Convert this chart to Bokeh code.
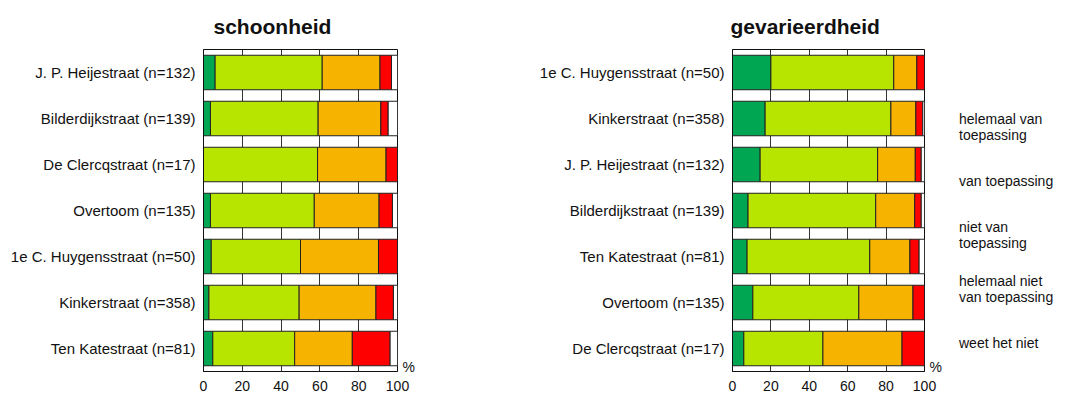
from bokeh.plotting import figure
from bokeh.models import (ColumnDataSource, FactorRange, FixedTicker, Legend, LegendItem,
                          CategoricalAxis, CustomJSTickFormatter, Range1d, CDSView, IndexFilter)
from bokeh.layouts import row
from bokeh.embed import file_html
from bokeh.resources import INLINE

series_keys = ["hel_van", "van", "niet", "hel_niet", "weet"]
series_labels = ["helemaal van\ntoepassing", "van toepassing", "niet van\ntoepassing",
                 "helemaal niet\nvan toepassing", "weet het niet"]
colors = ["#00A651", "#B7E500", "#F6B400", "#FF0000", "#FFFFFF"]

# schoonheid (top to bottom)
cats_s = ["J. P. Heijestraat (n=132)", "Bilderdijkstraat (n=139)", "De Clercqstraat (n=17)",
          "Overtoom (n=135)", "1e C. Huygensstraat (n=50)", "Kinkerstraat (n=358)",
          "Ten Katestraat (n=81)"]
s_hel_van = [6.0, 3.6, 0.0, 3.6, 4.0, 2.8, 4.8]
s_van = [55.2, 55.5, 58.8, 53.5, 46.0, 46.5, 42.2]
s_niet = [29.8, 32.3, 35.3, 33.4, 40.2, 39.6, 29.7]
s_hel_niet = [5.9, 3.8, 5.9, 6.9, 9.8, 9.0, 19.5]
s_weet = [3.1, 4.8, 0.0, 2.6, 0.0, 2.1, 3.8]

# gevarieerdheid (top to bottom)
cats_g = ["1e C. Huygensstraat (n=50)", "Kinkerstraat (n=358)", "J. P. Heijestraat (n=132)",
          "Bilderdijkstraat (n=139)", "Ten Katestraat (n=81)", "Overtoom (n=135)",
          "De Clercqstraat (n=17)"]
g_hel_van = [20.0, 17.0, 14.4, 8.1, 7.6, 10.6, 5.9]
g_van = [64.0, 65.5, 61.2, 66.5, 63.9, 55.2, 41.2]
g_niet = [12.0, 13.0, 19.6, 20.3, 20.9, 28.2, 41.2]
g_hel_niet = [4.0, 3.6, 3.1, 3.4, 4.8, 6.0, 11.7]
g_weet = [0.0, 0.9, 1.7, 1.7, 2.8, 0.0, 0.0]

x_ticks = [0, 20, 40, 60, 80, 100]
unit_label = "%"

FONT = "Liberation Sans"
HEIGHT = 398


def make_panel(title, cats, vals, width, left, right, title_offset):
    data = {"cat": cats}
    for k, v in zip(series_keys, vals):
        data[k] = v
    src = ColumnDataSource(data)
    p = figure(y_range=FactorRange(*reversed(cats), range_padding=0), x_range=(0, 100),
               width=width, height=HEIGHT, output_backend="svg", toolbar_location=None,
               min_border_left=left, min_border_right=right, min_border_top=46,
               min_border_bottom=27)
    rs = p.hbar_stack(series_keys, y="cat", height=0.75, source=src,
                      color=colors, line_color="#222222", line_width=1)
    p.title.text = title
    p.title.text_font = FONT
    p.title.text_font_size = "21px"
    p.title.text_font_style = "bold"
    p.title.align = "left"
    p.title.offset = title_offset
    p.title.standoff = 24
    p.title.text_color = "#111111"
    p.xaxis.ticker = FixedTicker(ticks=x_ticks)
    p.xgrid.ticker = FixedTicker(ticks=x_ticks)
    p.xgrid.grid_line_color = "#333333"
    p.xgrid.grid_line_width = 1
    p.ygrid.grid_line_color = None
    p.outline_line_color = "#111111"
    p.outline_line_width = 1
    for ax in (p.xaxis, p.yaxis):
        ax.major_tick_in = 0
        ax.major_tick_out = 0
        ax.minor_tick_in = 0
        ax.minor_tick_out = 0
        ax.axis_line_color = "#111111"
        ax.major_label_text_font = FONT
        ax.major_label_text_color = "#111111"
    p.xaxis.major_label_text_font_size = "14px"
    p.xaxis.major_label_standoff = 9
    p.yaxis.major_label_text_font_size = "15px"
    p.yaxis.major_label_standoff = 8

    # "%" unit marker at the bottom right of the frame (fine helper scale on the right)
    slots = ["u%d" % i for i in range(40)]
    p.extra_y_ranges = {"unit": FactorRange(factors=slots, range_padding=0)}
    fmt = CustomJSTickFormatter(args=dict(first=slots[0], lab=unit_label),
                                code="return tick == first ? lab : '';")
    unit_ax = CategoricalAxis(y_range_name="unit", formatter=fmt,
                              axis_line_color=None, major_tick_in=0, major_tick_out=0,
                              minor_tick_in=0, minor_tick_out=0, major_label_standoff=5,
                              major_label_text_font=FONT, major_label_text_font_size="14px",
                              major_label_text_color="#111111")
    p.add_layout(unit_ax, "right")
    return p, rs, src


p1, _, _ = make_panel("schoonheid", cats_s, [s_hel_van, s_van, s_niet, s_hel_niet, s_weet],
                      428, 203, 31, 10)
p2, _, src_g = make_panel("gevarieerdheid", cats_g,
                          [g_hel_van, g_van, g_niet, g_hel_niet, g_weet],
                          516, 304, 18, -2)

# legend panel: its stacked renderers show no rows (empty view), only the legend is drawn
p3 = figure(y_range=FactorRange(*reversed(cats_g)), x_range=Range1d(-300, -200),
            width=110, height=HEIGHT, x_axis_type=None, y_axis_type=None,
            output_backend="svg", toolbar_location=None, min_border_left=0,
            min_border_right=0, min_border_top=0, min_border_bottom=0,
            outline_line_color=None)
rs3 = p3.hbar_stack(series_keys, y="cat", height=0.75, source=src_g,
                    color=colors, line_color="#222222", line_width=1,
                    view=CDSView(filter=IndexFilter(indices=[])))

legend = Legend(items=[LegendItem(label=lab, renderers=[r]) for lab, r in zip(series_labels, rs3)],
                location=(0, 8), padding=0, margin=0, spacing=14,
                glyph_width=11, glyph_height=11, label_height=40, label_standoff=4,
                label_text_font=FONT, label_text_font_size="14px", label_text_color="#111111",
                border_line_alpha=0, background_fill_alpha=0)
p3.add_layout(legend)

layout = row(p1, p2, p3)
open("out.html", "w").write(file_html(layout, INLINE))
